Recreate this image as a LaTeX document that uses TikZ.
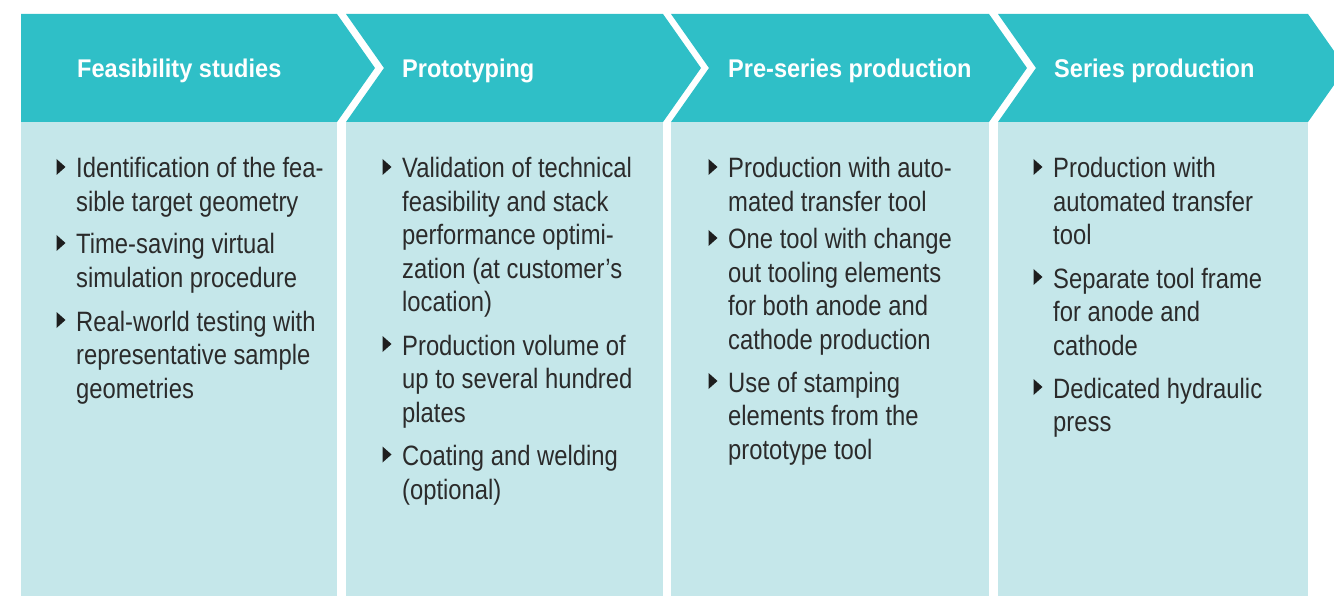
\documentclass[tikz,border=0pt]{standalone}
\usepackage{fontspec}
\setmainfont{Liberation Sans}[FakeStretch=0.85]
\newfontfamily\headfont{Liberation Sans}[FakeStretch=0.92]
\definecolor{teal}{HTML}{2FBFC7}
\definecolor{pale}{HTML}{C5E7EA}
\definecolor{textcol}{HTML}{2B2B2B}
\definecolor{bulletcol}{HTML}{1E1E1E}
\tikzset{
  headtext/.style={anchor=base west, inner sep=0pt, text=white, font=\headfont\bfseries\fontsize{25.6}{30}\selectfont},
  bodytext/.style={anchor=base west, inner sep=0pt, text=textcol, font=\fontsize{28}{33.5}\selectfont},
}
\newcommand\bulitem[4]{%
  \fill[bulletcol] (#2-19.5,#3-18) -- (#2-10.5,#3-10) -- (#2-19.5,#3-2) -- cycle;
  \foreach \ln [count=\k from 0] in {#4}{\node[bodytext] (#1-\k) at (#2,{#3+1+33.5*\k}) {\ln};}
}
\begin{document}
\begin{tikzpicture}[x=1pt,y=-1pt]
\useasboundingbox (0,0) rectangle (1334,596);
\begin{scope}
\clip (0,0) rectangle (1334,596);
% bodies
\fill[pale] (21,122) rectangle (337,596);
\fill[pale] (346,122) rectangle (663,596);
\fill[pale] (671,122) rectangle (989,596);
\fill[pale] (998,122) rectangle (1308,596);
% headers (chevrons)
\fill[teal] (21,14) -- (337,14) -- (375,68) -- (337,122) -- (21,122) -- cycle;
\fill[teal] (346,14) -- (663,14) -- (701,68) -- (663,122) -- (346,122) -- (384,68) -- cycle;
\fill[teal] (671,14) -- (989,14) -- (1027,68) -- (989,122) -- (671,122) -- (709,68) -- cycle;
\fill[teal] (998,14) -- (1308,14) -- (1346,68) -- (1308,122) -- (998,122) -- (1036,68) -- cycle;
\end{scope}
% header labels
\node[headtext] (h1) at (77,77.5) {Feasibility studies};
\node[headtext] (h2) at (402,77.5) {Prototyping};
\node[headtext] (h3) at (728,77.5) {Pre-series production};
\node[headtext] (h4) at (1054,77.5) {Series production};
% column 1
\bulitem{a1}{76}{177}{{Identification of the fea-},{sible target geometry}}
\bulitem{a2}{76}{253}{{Time-saving virtual},{simulation procedure}}
\bulitem{a3}{76}{330}{{Real-world testing with},{representative sample},{geometries}}
% column 2
\bulitem{b1}{402}{177}{{Validation of technical},{feasibility and stack},{performance optimi-},{zation (at customer’s},{location)}}
\bulitem{b2}{402}{354}{{Production volume of},{up to several hundred},{plates}}
\bulitem{b3}{402}{464.5}{{Coating and welding},{(optional)}}
% column 3
\bulitem{c1}{728}{177}{{Production with auto-},{mated transfer tool}}
\bulitem{c2}{728}{248}{{One tool with change},{out tooling elements},{for both anode and},{cathode production}}
\bulitem{c3}{728}{391}{{Use of stamping},{elements from the},{prototype tool}}
% column 4
\bulitem{d1}{1053}{177}{{Production with},{automated transfer},{tool}}
\bulitem{d2}{1053}{287}{{Separate tool frame},{for anode and},{cathode}}
\bulitem{d3}{1053}{397}{{Dedicated hydraulic},{press}}
\end{tikzpicture}
\end{document}
